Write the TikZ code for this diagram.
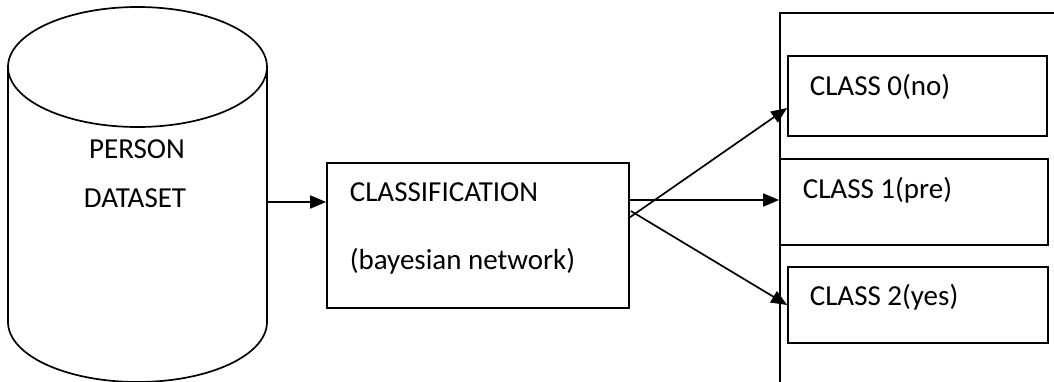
\documentclass[tikz,border=0pt]{standalone}
\usepackage{fontspec}
\setmainfont{Carlito}
\usetikzlibrary{arrows.meta,calc}
\begin{document}
\begin{tikzpicture}[x=1pt,y=-1pt, line width=1.7pt,
  box/.style={draw, rectangle, inner sep=0pt},
  lbl/.style={font=\fontsize{29}{34}\selectfont, inner sep=0pt},
  arr/.style={-{Triangle[length=16pt,width=13pt]}}]
\useasboundingbox (0,0) rectangle (1054,381);
\clip (0,0) rectangle (1054,381);
% database cylinder
\draw (8,67) -- (8,322) arc[start angle=180,end angle=0,x radius=129.5,y radius=60] -- (267,67);
\draw (137.5,67) ellipse [x radius=129.5, y radius=60];
\node[inner sep=0pt, minimum width=259pt, minimum height=255pt] (db) at (137.5,195) {};
\node[lbl, anchor=base] (p1) at (137,158) {PERSON};
\node[lbl, anchor=base] (p2) at (135,207) {DATASET};
% classification
\node[box, minimum width=302pt, minimum height=145pt] (cls) at (478,235.5) {};
\node[lbl, anchor=base west] (t1) at (349,201.5) {CLASSIFICATION};
\node[lbl, anchor=base west] (t2) at (349,269) {(bayesian network)};
% panel
\node[box, minimum width=300pt, minimum height=420pt, anchor=north west] (panel) at (779,12) {};
% class boxes
\node[box, minimum width=259pt, minimum height=80pt] (c0) at (917.5,96) {};
\node[box, minimum width=268pt, minimum height=86pt] (c1) at (914,202) {};
\node[box, minimum width=260pt, minimum height=76pt] (c2) at (918,305) {};
\node[lbl, anchor=base west] (l0) at (809,95) {CLASS 0(no)};
\node[lbl, anchor=base west] (l1) at (802,198) {CLASS 1(pre)};
\node[lbl, anchor=base west] (l2) at (809,305) {CLASS 2(yes)};
% arrows
\coordinate (a0) at (0,202);
\draw[arr] (db.east |- a0) -- (cls.west |- a0);
\draw[arr] ($(cls.east)+(0,-35.5)$) -- ($(c1.west)+(0,-2)$);
\draw[arr] ($(cls.east)+(-1,-17.5)$) -- ($(c0.west)+(0,12)$);
\draw[arr] ($(cls.east)+(1,-24.5)$) -- ($(c2.west)+(0,0)$);
\end{tikzpicture}
\end{document}
